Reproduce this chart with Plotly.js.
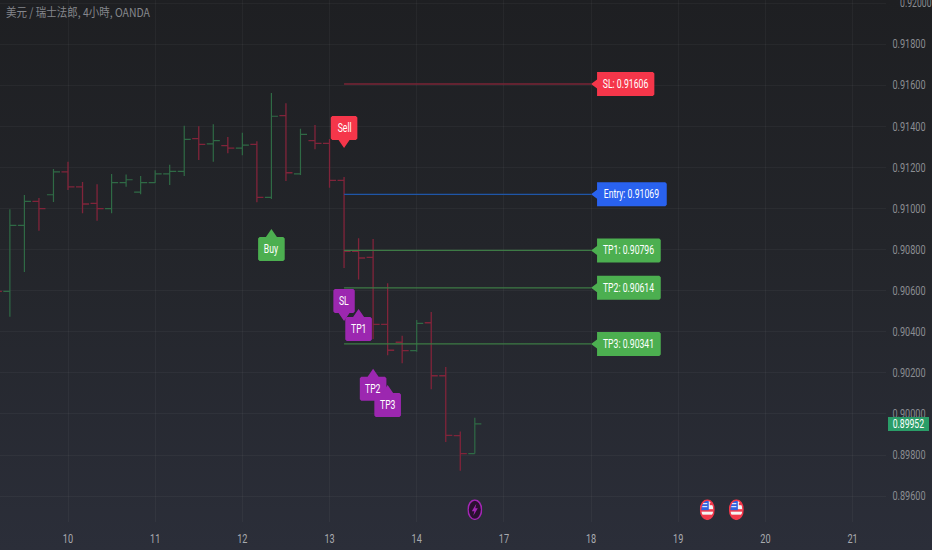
<!DOCTYPE html>
<html><head><meta charset="utf-8">
<script src="https://cdn.plot.ly/plotly-3.0.1.min.js"></script>
<style>
html,body{margin:0;padding:0;width:932px;height:550px;overflow:hidden;background:linear-gradient(180deg,#1e1f22 0%,#23252a 45%,#2b2e39 100%);}
#chart{width:932px;height:550px;}
</style></head><body><div id="chart"></div>
<script>
const barIndex=[-5,-4,-3,-2,-1,0,1,2,3,4,5,6,7,8,9,10,11,12,13,14,15,16,17,18,19,20,21,22,23,24,25,26,27,28];
const openPrices=[.9062,.90597,.90918,.91035,.91067,.91178,.91105,.91025,.90999,.91126,.9108,.91126,.91169,.91181,.9134,.91315,.91306,.91294,.91312,.91054,.91452,.91169,.9133,.91317,.91137,.90792,.90762,.90436,.90349,.90308,.90444,.90186,.89894,.89807];
const highPrices=[.9068,.90996,.91066,.91051,.91192,.91228,.91129,.91118,.91168,.91166,.91158,.91186,.91213,.91403,.91401,.9141,.91348,.91369,.91328,.91562,.91512,.91388,.91406,.91338,.91153,.90855,.90852,.90636,.90381,.90457,.90496,.90229,.89914,.89982];
const lowPrices=[.905,.90473,.90691,.90892,.91032,.9109,.90977,.90941,.90977,.91106,.91069,.91124,.91114,.91158,.91236,.91228,.91269,.91259,.9103,.91046,.91134,.91163,.91288,.91101,.9071,.90655,.90365,.90286,.90247,.90303,.9012,.89864,.89724,.89807];
const closePrices=[.90597,.90918,.91035,.90999,.91178,.91105,.91022,.90999,.91126,.9114,.91126,.91169,.91181,.91337,.91312,.9133,.91294,.91309,.91054,.91449,.91174,.91361,.91317,.91137,.90792,.90759,.90436,.9031,.90308,.90441,.90186,.89896,.89807,.89952];
const dayTickIndex=[0,6,12,18,24,30,36,42,48,54];
const dayTickLabels=['10','11','12','13','14','17','18','19','20','21'];
const priceTicks=[.896,.898,.9,.902,.904,.906,.908,.91,.912,.914,.916,.918,.92];
const levelNames=['SL','Entry','TP1','TP2','TP3'];
const levelPrices=[.91606,.91069,.90796,.90614,.90341];
const levelLine=['#7a2436','#1f56a8','#3d7a45','#3d7a45','#3d7a45'];
const levelFill=['#f5364a','#2962ef','#4caf50','#4caf50','#4caf50'];
const levelBoxWidth=[57.3,69.7,63.7,63.7,63.7];
const levelStart=19, levelEnd=36;
const signalText=['Buy','Sell','SL','TP1','TP2','TP3'];
const signalIndex=[14,19,19,20,21,22];
const signalPrice=[.909,.91294,.90453,.90511,.9022,.90141];
const signalDir=['up','down','down','up','up','up'];
const signalFill=['#4caf50','#f5364a','#9c27b0','#9c27b0','#9c27b0','#9c27b0'];
const lastPrice=.89952;
const eventIndex=[28,44,46];
const eventPrice=.89534;
const eventKind=['bolt','flag','flag'];
const titleText='美元 / 瑞士法郎, 4小時, OANDA';
const uiFont='Roboto,sans-serif';

const pxX=14.53, pxY=20550;
function upPath(w,h,ph,pw){const x=w/2,c=1.5,b=-(ph+h),t=-ph;
  return `M0,0 L${pw},${t} L${x-c},${t} L${x},${t-c} L${x},${b+c} L${x-c},${b} L${-x+c},${b} L${-x},${b+c} L${-x},${t-c} L${-x+c},${t} L${-pw},${t} Z`;}
function downPath(w,h,ph,pw){const x=w/2,c=1.5,t=ph+h,b=ph;
  return `M0,0 L${pw},${b} L${x-c},${b} L${x},${b+c} L${x},${t-c} L${x-c},${t} L${-x+c},${t} L${-x},${t-c} L${-x},${b+c} L${-x+c},${b} L${-pw},${b} Z`;}
function leftPath(w,h,ph,pw){const y=h/2,c=1.5,l=ph,r=ph+w;
  return `M0,0 L${l},${-pw} L${l},${-y} L${r-c},${-y} L${r},${-y+c} L${r},${y-c} L${r-c},${y} L${l},${y} L${l},${pw} Z`;}

const traces=[{type:'ohlc',x:barIndex,open:openPrices,high:highPrices,low:lowPrices,close:closePrices,tickwidth:.45,
  increasing:{line:{color:'#2f6a45',width:1.2}},decreasing:{line:{color:'#80243a',width:1.3}},hoverinfo:'skip',showlegend:false}];
levelNames.forEach((n,i)=>traces.push({type:'scatter',mode:'lines',x:[levelStart,levelEnd],y:[levelPrices[i],levelPrices[i]],
  line:{color:levelLine[i],width:1.3},hoverinfo:'skip',showlegend:false}));

const shapes=[],annotations=[];
levelNames.forEach((n,i)=>{
  shapes.push({type:'path',layer:'above',xref:'x',yref:'y',xsizemode:'pixel',ysizemode:'pixel',xanchor:levelEnd,yanchor:levelPrices[i],
    path:leftPath(levelBoxWidth[i],24,6,4.5),fillcolor:levelFill[i],line:{width:0}});
  annotations.push({x:levelEnd,y:levelPrices[i],xref:'x',yref:'y',xanchor:'center',yanchor:'middle',xshift:6+levelBoxWidth[i]/2,showarrow:false,
    text:n+': '+levelPrices[i].toFixed(5),font:{family:uiFont,size:12,color:'#ffffff'}});
});
signalText.forEach((t,i)=>{
  const up=signalDir[i]==='up';
  shapes.push({type:'path',layer:'above',xref:'x',yref:'y',xsizemode:'pixel',ysizemode:'pixel',xanchor:signalIndex[i],yanchor:signalPrice[i],
    path:(up?upPath(t==='SL'?21.4:26.6,24,8,5.5):downPath(t==='SL'?21.4:26.6,24,8,5.5)),fillcolor:signalFill[i],line:{width:0}});
  annotations.push({x:signalIndex[i],y:signalPrice[i],xref:'x',yref:'y',xanchor:'center',yanchor:'middle',yshift:up?-20:20,showarrow:false,
    text:t,font:{family:uiFont,size:12,color:'#ffffff'}});
});
annotations.push({x:888/886,y:lastPrice,xref:'paper',yref:'y',xanchor:'left',yanchor:'middle',showarrow:false,text:lastPrice.toFixed(5),
  width:41,height:14,borderpad:0,borderwidth:0,bgcolor:'#2a9d68',align:'center',font:{family:uiFont,size:12,color:'#ffffff'}});
const topTick=priceTicks[priceTicks.length-1];
annotations.push({x:893/886,y:topTick,xref:'paper',yref:'y',xanchor:'left',yanchor:'middle',showarrow:false,text:topTick.toFixed(5),
  borderpad:0,font:{family:uiFont,size:12,color:'#8b8d92'}});

function svg(inner){return 'data:image/svg+xml;utf8,'+encodeURIComponent('<svg xmlns="http://www.w3.org/2000/svg" width="15" height="21" viewBox="0 0 30 42" preserveAspectRatio="none">'+inner+'</svg>');}
const boltSvg=svg('<ellipse cx="15" cy="21" rx="13.5" ry="19.5" fill="#2a1030" stroke="#a326b5" stroke-width="3"/><path d="M18 9 L9 24 L14 24 L12 33 L21 18 L16 18 Z" fill="#a326b5"/>');
const flagSvg=svg('<defs><clipPath id="c"><ellipse cx="15" cy="21" rx="13" ry="19"/></clipPath></defs><g clip-path="url(#c)"><rect width="30" height="42" fill="#f5f5f5"/><rect y="20" width="30" height="5" fill="#f2384a"/><rect y="31" width="30" height="11" fill="#f2384a"/><rect y="7" x="20" width="10" height="5" fill="#f2384a"/><rect x="0" y="0" width="18" height="22" fill="#2f62e0"/><rect x="5" y="8" width="10" height="2" fill="#fff"/><rect x="5" y="14" width="10" height="2" fill="#fff"/></g><ellipse cx="15" cy="21" rx="13.5" ry="19.5" fill="none" stroke="#f2364a" stroke-width="3"/>');
const images=eventIndex.map((k,i)=>({source:eventKind[i]==='bolt'?boltSvg:flagSvg,xref:'x',yref:'y',x:k,y:eventPrice,xanchor:'center',yanchor:'middle',
  sizex:15/pxX,sizey:21/pxY,sizing:'stretch',layer:'above'}));

const gridc='rgba(255,255,255,0.04)';
const layout={width:932,height:550,margin:{l:0,r:46,t:0,b:28,pad:0},paper_bgcolor:'rgba(0,0,0,0)',plot_bgcolor:'rgba(0,0,0,0)',
  title:{text:titleText,x:6/932,xanchor:'left',y:1-13/550,yanchor:'middle',font:{family:'"Noto Sans CJK TC","Liberation Serif",serif',size:12,color:'#85878c'}},
  showlegend:false,hovermode:false,dragmode:false,
  xaxis:{type:'linear',range:[-4.68,56.3],tickmode:'array',tickvals:dayTickIndex,ticktext:dayTickLabels,showgrid:true,gridcolor:gridc,gridwidth:1,zeroline:false,
    showline:false,ticks:'outside',ticklen:6,tickcolor:'rgba(0,0,0,0)',tickfont:{family:uiFont,size:12,color:'#a8aaaf'},rangeslider:{visible:false},fixedrange:true},
  yaxis:{type:'linear',side:'right',range:[.89474,.92015],tickmode:'array',tickvals:priceTicks,tickformat:'.5f',showgrid:true,gridcolor:gridc,gridwidth:1,zeroline:false,
    showline:false,ticks:'outside',ticklen:3,tickcolor:'rgba(0,0,0,0)',tickfont:{family:uiFont,size:12,color:'#8b8d92'},fixedrange:true},
  shapes,annotations,images};
function squeeze(sel,ratio,fixed){
  document.querySelectorAll(sel).forEach(t=>{
    const w=t.getComputedTextLength();
    if(w>0){t.setAttribute('textLength',fixed||w*ratio);t.setAttribute('lengthAdjust','spacingAndGlyphs');}
  });
}
Plotly.newPlot('chart',traces,layout,{staticPlot:true,displayModeBar:false,responsive:false}).then(()=>{
  squeeze('.ytick text',.76);
  squeeze('.xtick text',.76);
  squeeze('.annotation-text',.72);
  squeeze('.gtitle',1,144);
});
</script></body></html>
